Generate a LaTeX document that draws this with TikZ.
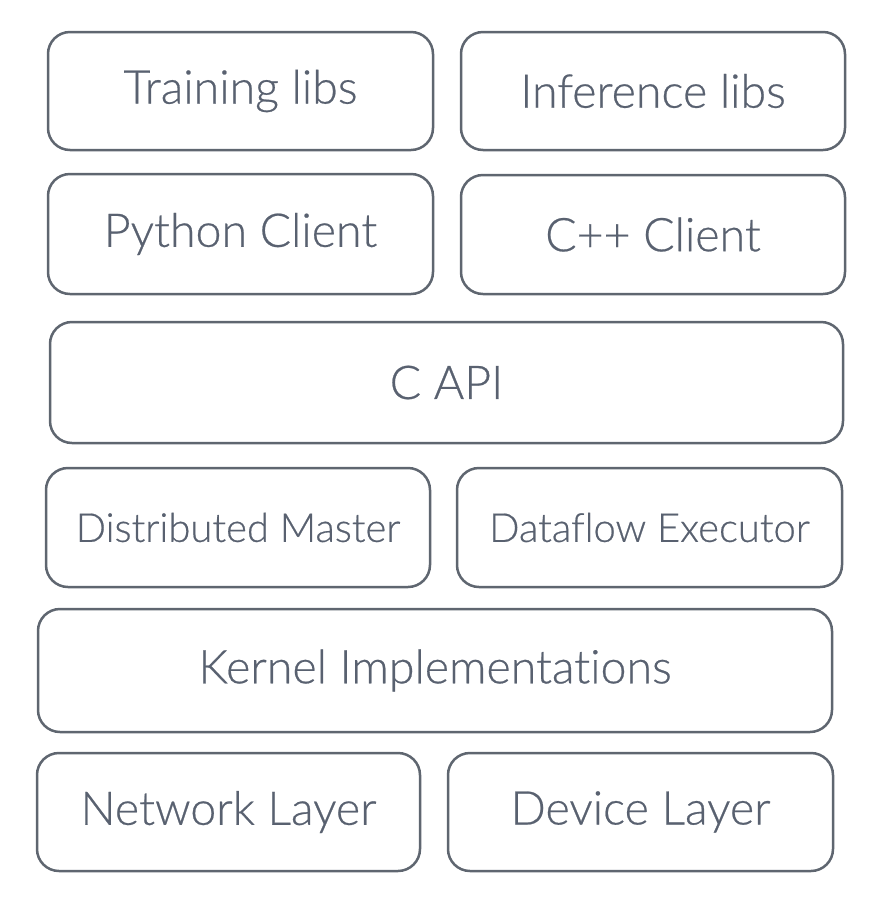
\documentclass[tikz,border=0pt]{standalone}
\usepackage{fontspec}
\setmainfont{Lato Light}[Ligatures=NoCommon, FakeBold=0.5]
\definecolor{boxgray}{HTML}{5F6670}
\definecolor{txtgray}{HTML}{596170}
\tikzset{
  layerbox/.style={draw=boxgray, line width=2.5pt, rounded corners=22pt, fill=white,
    inner sep=0pt, text=txtgray, font=\fontsize{46.5}{54}\selectfont},
  smalltext/.style={font=\fontsize{40}{46}\selectfont}
}
\begin{document}
\begin{tikzpicture}[x=1pt,y=-1pt]
\useasboundingbox (0,0) rectangle (882,906);
\node[layerbox, minimum width=385pt, minimum height=118pt] (train) at (240.5,91) {Training libs};
\node[layerbox, minimum width=384pt, minimum height=118pt] (infer) at (653,91) {Inference libs};
\node[layerbox, minimum width=385pt, minimum height=120pt] (python) at (240.5,234) {Python Client};
\node[layerbox, minimum width=384pt, minimum height=119pt] (cpp) at (653,234.5) {C++ Client};
\node[layerbox, minimum width=793pt, minimum height=121pt] (capi) at (446.5,382.5) {C API};
\node[layerbox, smalltext, minimum width=384pt, minimum height=119pt] (master) at (238,527.5) {Distributed Master};
\node[layerbox, smalltext, minimum width=385pt, minimum height=119pt] (exec) at (649.5,527.5) {Dataflow Executor};
\node[layerbox, minimum width=794pt, minimum height=123pt] (kernel) at (435,670.5) {Kernel Implementations};
\node[layerbox, minimum width=383pt, minimum height=118pt] (net) at (228.5,812) {Network Layer};
\node[layerbox, minimum width=385pt, minimum height=118pt] (dev) at (640.5,812) {Device Layer};
\end{tikzpicture}
\end{document}
